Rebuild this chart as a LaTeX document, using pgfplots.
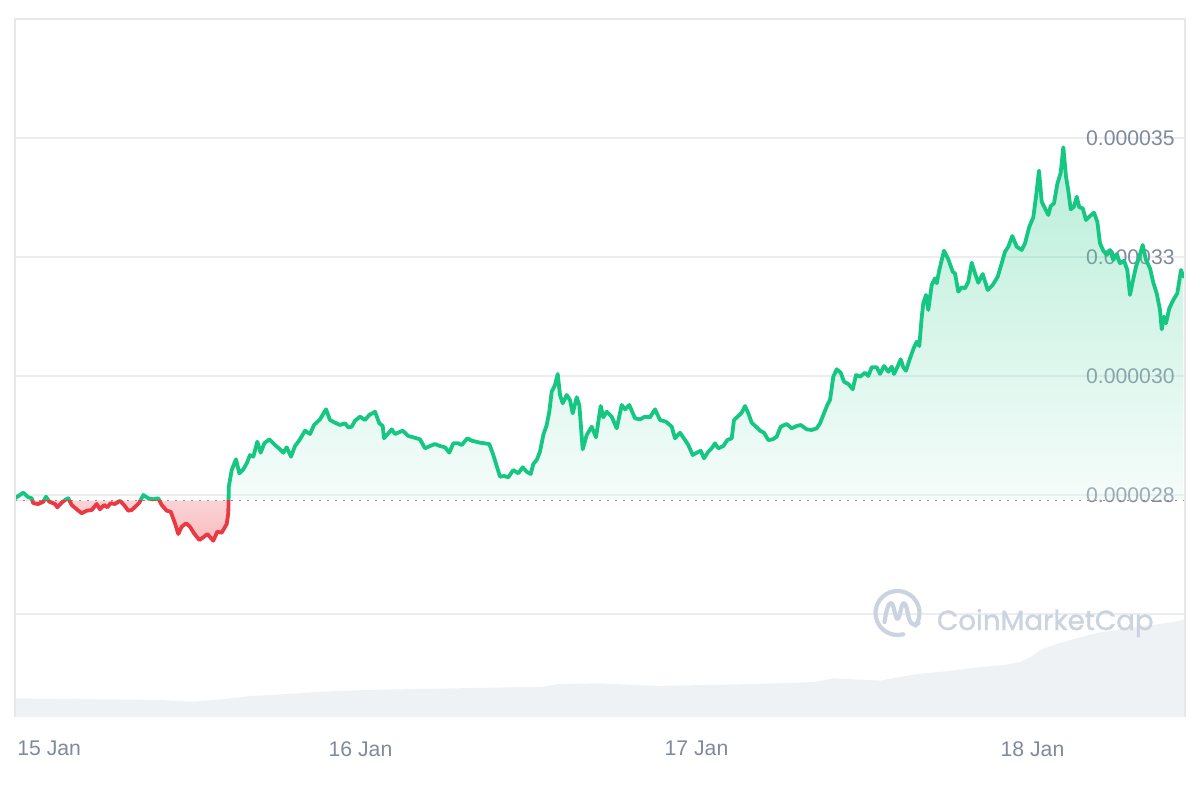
\documentclass[border=0pt]{standalone}
\usepackage{pgfplots}
\pgfplotsset{compat=1.18}
\usepackage{pgfplotstable}
\usepackage{fontspec}
\setmainfont{Liberation Sans}
\newfontfamily\wmfont{Poppins}[FakeBold=1.3]
\definecolor{cmcgreen}{HTML}{16C784}
\definecolor{cmcred}{HTML}{EA3943}
\definecolor{tickgray}{HTML}{808A9D}
\definecolor{gridgray}{HTML}{EBEDF0}
\definecolor{framegray}{HTML}{E6E8EB}
\definecolor{volgray}{HTML}{EFF2F5}
\definecolor{wmgray}{HTML}{CCD3E0}

% price in units of 1e-6, time in hours from 15 Jan 00:00
\pgfplotstableread{
h p
-0.679 27.431
-0.086 27.548
0.271 27.452
0.514 27.431
0.629 27.326
0.986 27.311
1.343 27.359
1.536 27.464
1.771 27.359
2.179 27.311
2.343 27.242
2.657 27.338
2.893 27.395
3.129 27.431
3.371 27.290
3.729 27.200
4.086 27.116
4.443 27.170
4.800 27.185
5.157 27.311
5.393 27.200
5.679 27.290
5.914 27.242
6.157 27.326
6.464 27.311
6.821 27.380
7.107 27.290
7.414 27.170
7.657 27.185
7.964 27.269
8.200 27.338
8.486 27.500
8.843 27.431
9.200 27.410
9.557 27.431
9.800 27.290
10.157 27.170
10.443 27.149
10.750 26.905
10.986 26.681
11.229 26.834
11.536 26.905
11.821 26.834
12.107 26.695
12.486 26.555
12.771 26.611
13.057 26.681
13.486 26.540
13.771 26.729
14.086 26.708
14.443 26.891
14.557 27.116
14.593 27.674
14.800 28.025
15.107 28.250
15.343 27.956
15.629 28.040
15.871 28.166
16.107 28.340
16.343 28.305
16.629 28.620
16.871 28.389
17.129 28.586
17.486 28.670
17.893 28.550
18.250 28.460
18.486 28.389
18.729 28.502
19.036 28.305
19.321 28.529
19.679 28.670
20.036 28.851
20.393 28.781
20.679 28.971
21.107 29.090
21.536 29.300
21.821 29.076
22.179 29.019
22.536 28.971
22.893 29.006
23.129 28.922
23.371 28.935
23.607 29.061
23.964 29.145
24.321 29.076
24.629 29.181
25.036 29.250
25.343 29.006
25.586 28.950
25.679 28.691
25.986 28.796
26.229 28.880
26.464 28.781
27.014 28.851
27.414 28.740
27.771 28.712
28.250 28.670
28.607 28.481
28.964 28.529
29.321 28.571
29.679 28.529
30.036 28.502
30.343 28.389
30.629 28.586
30.986 28.586
31.229 28.550
31.629 28.691
31.943 28.641
32.536 28.599
33.200 28.571
33.486 28.340
33.729 28.109
33.964 27.884
34.250 27.899
34.557 27.872
34.914 28.025
35.271 27.956
35.586 28.082
35.871 27.989
36.157 27.941
36.343 28.151
36.586 28.235
36.821 28.410
37.057 28.761
37.300 28.971
37.486 29.250
37.657 29.670
37.893 29.811
38.086 30.042
38.250 29.601
38.443 29.426
38.729 29.601
38.964 29.496
39.157 29.216
39.443 29.553
39.629 29.391
39.871 28.460
40.157 28.761
40.514 28.935
40.821 28.712
41.157 29.370
41.343 29.132
41.586 29.250
41.943 29.145
42.300 28.901
42.657 29.391
42.893 29.300
43.200 29.391
43.607 29.111
43.964 29.090
44.321 29.145
44.679 29.132
45.036 29.300
45.393 29.076
45.821 29.040
46.229 28.935
46.464 28.691
46.821 28.809
47.179 28.655
47.414 28.550
47.729 28.340
48.014 28.389
48.300 28.431
48.536 28.271
48.843 28.410
49.086 28.481
49.321 28.586
49.557 28.481
49.914 28.529
50.200 28.655
50.514 28.691
50.679 29.076
50.986 29.160
51.229 29.229
51.464 29.370
51.700 29.216
51.943 29.019
52.250 28.935
52.536 28.851
52.821 28.809
53.129 28.655
53.443 28.670
53.729 28.725
54.014 28.935
54.443 28.992
54.800 28.901
55.157 28.950
55.443 28.971
55.871 28.880
56.229 28.866
56.586 28.901
56.821 29.006
57.057 29.181
57.343 29.391
57.536 29.496
57.771 29.985
58.014 30.141
58.300 30.069
58.536 29.880
58.843 29.832
59.157 29.721
59.393 30.021
59.679 29.985
60.036 30.069
60.271 30.000
60.514 30.183
60.871 30.183
61.107 30.042
61.393 30.210
61.700 30.090
61.943 30.195
62.107 30.042
62.343 30.183
62.586 30.351
62.771 30.183
62.964 30.111
63.250 30.372
63.536 30.603
63.729 30.720
63.914 30.630
64.086 31.233
64.200 31.527
64.393 31.702
64.557 31.387
64.800 31.912
65.036 32.052
65.157 31.947
65.343 32.227
65.679 32.632
65.986 32.452
66.300 32.191
66.464 32.157
66.700 31.771
66.943 31.863
67.179 31.842
67.414 31.981
67.657 32.380
67.893 32.157
68.129 31.960
68.443 32.143
68.800 31.807
69.157 31.912
69.514 32.086
69.800 32.368
70.036 32.611
70.271 32.716
70.557 32.941
70.871 32.716
71.229 32.647
71.464 32.788
71.771 33.136
72.057 33.334
72.250 33.767
72.464 34.313
72.657 33.662
72.893 33.523
73.129 33.382
73.300 33.571
73.536 33.628
73.771 34.034
74.014 34.271
74.200 34.805
74.393 34.187
74.557 33.893
74.729 33.502
74.964 33.557
75.157 33.767
75.343 33.544
75.586 33.523
75.821 33.277
76.107 33.361
76.393 33.431
76.629 33.242
76.821 32.788
77.057 32.632
77.300 32.542
77.536 32.647
77.771 32.437
78.014 32.563
78.250 32.368
78.536 32.422
78.771 32.227
78.964 31.702
79.157 31.981
79.393 32.296
79.629 32.506
79.871 32.752
80.107 32.437
80.393 32.262
80.629 31.960
80.871 31.737
81.107 31.387
81.229 30.981
81.393 31.246
81.536 31.107
81.771 31.422
82.057 31.597
82.343 31.737
82.607 32.227
82.771 32.086
}\pricedata

% volume, relative height
\pgfplotstableread{
h v
-0.679 18.7
9.75 17.0
11.89 15.3
13.50 17.0
14.96 19.0
16.11 21.0
17.50 22.0
18.82 23.0
21.18 25.3
24.25 27.0
37.04 30.3
38.18 33.0
41.11 33.7
45.18 31.0
52.04 33.0
56.50 35.0
57.75 38.7
61.11 36.3
62.50 40.0
63.82 43.0
66.00 46.0
68.46 50.3
70.00 52.0
71.18 55.3
72.00 61.0
72.54 67.0
73.89 73.7
75.20 79.0
76.61 84.0
78.00 87.0
79.39 90.3
80.80 92.5
82.11 95.0
82.893 98.0
}\voldata

\begin{document}
\begin{tikzpicture}[x=1pt,y=1pt]
\path[use as bounding box, fill=white] (0,0) rectangle (600,400);
% volume
\begin{axis}[
  at={(7.5pt,41.5pt)}, anchor=south west,
  scale only axis, width=585pt, height=349pt,
  xmin=-0.679, xmax=82.893, ymin=0, ymax=698,
  axis lines=none, ticks=none,
]
\addplot[fill=volgray, draw=none] table[x=h,y=v]{\voldata} \closedcycle;
\end{axis}
% price
\begin{axis}[
  at={(7.5pt,41.5pt)}, anchor=south west,
  scale only axis, width=585pt, height=349pt,
  xmin=-0.679, xmax=82.893, ymin=22.836, ymax=37.5,
  axis line style={draw=none},
  xtick={24,48,72}, xticklabels={16 Jan,17 Jan,18 Jan},
  extra x ticks={-0.536}, extra x tick labels={15 Jan},
  extra x tick style={xticklabel style={anchor=north west}},
  ytick={25,27.5,30,32.5,35},
  yticklabels={,0.000028,0.000030,0.000033,0.000035},
  yticklabel pos=right,
  ymajorgrids, grid style={draw=gridgray, line width=0.6pt},
  major tick length=0pt,
  tick label style={font=\fontsize{10.6}{12}\selectfont, text=tickgray, inner sep=0pt},
  xticklabel style={anchor=north, yshift=-12pt},
  yticklabel style={anchor=east, xshift=-5pt},
  /pgf/number format/assume math mode=true,
]
% green area (above the opening price), translucent so the tick labels show through
\begin{scope}
\clip (axis cs:-5,27.384) rectangle (axis cs:90,45);
\addplot[draw=none, fill opacity=0.3, top color=cmcgreen, bottom color=cmcgreen!3!white]
  table[x=h,y=p]{\pricedata} -- (axis cs:82.771,27.384) -- (axis cs:-0.679,27.384) -- cycle;
\end{scope}
% red area (below the opening price)
\begin{scope}
\clip (axis cs:-5,10) rectangle (axis cs:90,27.384);
\addplot[draw=none, top color=cmcred!20!white, bottom color=cmcred!33!white,
  restrict x to domain=-1:14.58]
  table[x=h,y=p]{\pricedata} -- (axis cs:14.557,27.384) -- (axis cs:-0.679,27.384) -- cycle;
\end{scope}
\addplot[draw=gray!90, line width=0.9pt, dash pattern=on 0.9pt off 3.1pt] coordinates {(-0.679,27.384) (82.893,27.384)};
\begin{scope}
\clip (axis cs:-5,27.384) rectangle (axis cs:90,45);
\addplot[cmcgreen, line width=1.9pt, line join=round, line cap=round] table[x=h,y=p]{\pricedata};
\end{scope}
\begin{scope}
\clip (axis cs:-5,10) rectangle (axis cs:90,27.384);
\addplot[cmcred, line width=1.9pt, line join=round, line cap=round] table[x=h,y=p]{\pricedata};
\end{scope}
\end{axis}
% frame
\draw[framegray, line width=0.75pt] (7.5,41.5) -- (7.5,390.5) -- (592.5,390.5) -- (592.5,41.5);
% watermark
\begin{scope}[shift={(448.75,93.5)}]
\draw[wmgray, line width=2.1pt, line cap=round] (-35:11) arc (-35:285:11);
\draw[wmgray, line width=2.1pt, line cap=round, line join=round]
  (-6.5,-4.5) .. controls (-5.5,2) and (-4.5,5) .. (-3.2,5) .. controls (-1.8,5) and (-1.2,-3) .. (0,-3)
  .. controls (1.2,-3) and (1.8,5) .. (3.2,5) .. controls (4.6,5) and (5,-1) .. (6,-3.5)
  .. controls (7,-6) and (9,-6.5) .. (10.5,-5);
\end{scope}
\node[anchor=base west, inner sep=0pt, text=wmgray] at (468.3,85) {\resizebox{108.3pt}{!}{\wmfont CoinMarketCap}};
\end{tikzpicture}
\end{document}
